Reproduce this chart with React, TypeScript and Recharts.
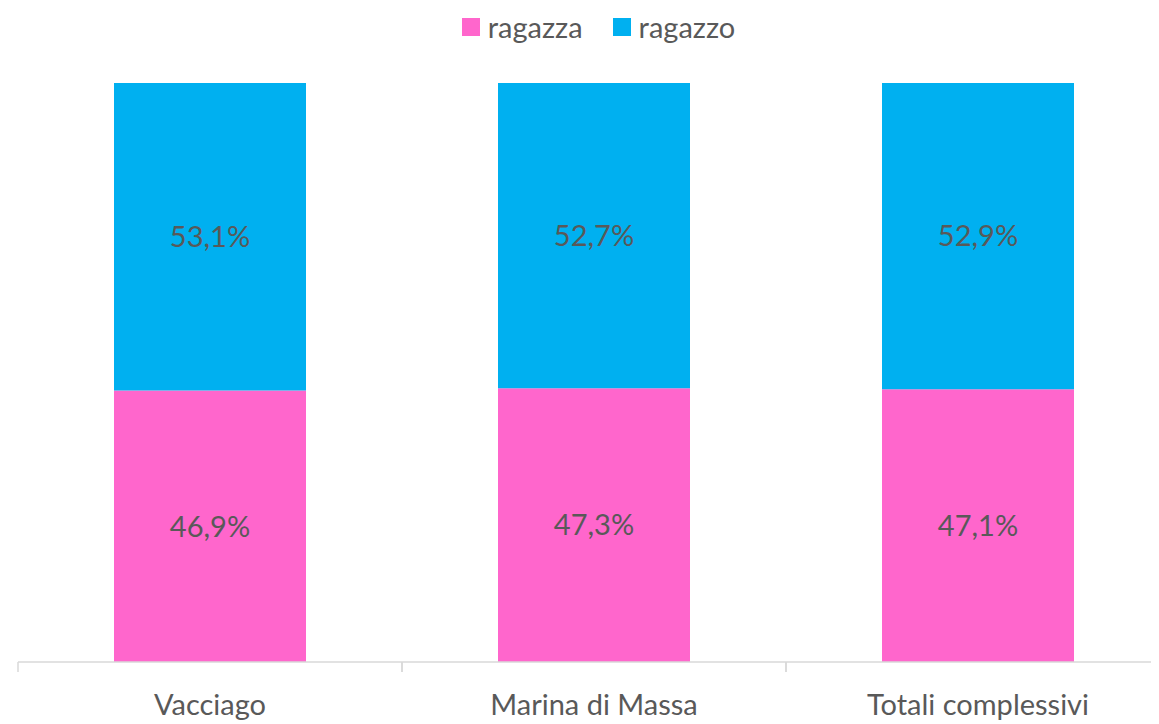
import React from "react";
import { BarChart, Bar, XAxis, YAxis, Legend, LabelList } from "recharts";

const categories = ["Vacciago", "Marina di Massa", "Totali complessivi"];
const ragazza = [46.9, 47.3, 47.1];
const ragazzo = [53.1, 52.7, 52.9];

const data = categories.map((c, i) => ({ name: c, ragazza: ragazza[i], ragazzo: ragazzo[i] }));

const PINK = "#FF66CC";
const BLUE = "#00B0F0";
const TEXT = "#595959";
const AXIS = "#D9D9D9";
const FONT = "Lato, 'Open Sans', sans-serif";
const FS = 29;

const fmt = (v: any) => `${Number(v).toFixed(1).replace(".", ",")}%`;

const BAND = 384;

const Tick = (props: any) => {
  const { x, y, payload } = props;
  return (
    <g>
      <line x1={x - BAND / 2} x2={x - BAND / 2} y1={y - 8} y2={y + 2} stroke={AXIS} strokeWidth={1.5} />
      <line x1={x + BAND / 2} x2={x + BAND / 2} y1={y - 8} y2={y + 2} stroke={AXIS} strokeWidth={1.5} />
      <text x={x} y={y + 45} textAnchor="middle" fill={TEXT} fontSize={FS} fontFamily={FONT}>
        {payload.value}
      </text>
    </g>
  );
};

const LegendContent = (props: any) => {
  const { payload } = props;
  return (
    <div style={{ display: "flex", justifyContent: "center", alignItems: "center", paddingLeft: 9, fontFamily: FONT }}>
      {(payload || []).map((p: any, i: number) => (
        <div key={i} style={{ display: "flex", alignItems: "center", marginRight: i === 0 ? 30 : 0 }}>
          <span style={{ display: "inline-block", width: 18, height: 18, background: p.color, marginRight: 8 }} />
          <span style={{ fontSize: FS, color: TEXT, lineHeight: "34px" }}>{p.value}</span>
        </div>
      ))}
    </div>
  );
};

export default function App() {
  return (
    <div style={{ width: 1151, height: 716, overflow: "hidden" }}>
      <BarChart
        width={1172}
        height={716}
        data={data}
        margin={{ top: 41, right: 10, bottom: 2, left: 10 }}
        barCategoryGap="25%"
      >
        <Legend verticalAlign="top" align="center" content={<LegendContent />} wrapperStyle={{ top: 2 }} />
        <XAxis
          dataKey="name"
          height={60}
          axisLine={{ stroke: AXIS, strokeWidth: 1.5 }}
          tickLine={false}
          tick={<Tick />}
          interval={0}
        />
        <YAxis hide domain={[0, 100]} />
        <Bar dataKey="ragazza" stackId="a" fill={PINK} isAnimationActive={false}>
          <LabelList dataKey="ragazza" position="center" formatter={fmt} fill={TEXT} fontSize={FS} fontFamily={FONT} />
        </Bar>
        <Bar dataKey="ragazzo" stackId="a" fill={BLUE} isAnimationActive={false}>
          <LabelList dataKey="ragazzo" position="center" formatter={fmt} fill={TEXT} fontSize={FS} fontFamily={FONT} />
        </Bar>
      </BarChart>
    </div>
  );
}
